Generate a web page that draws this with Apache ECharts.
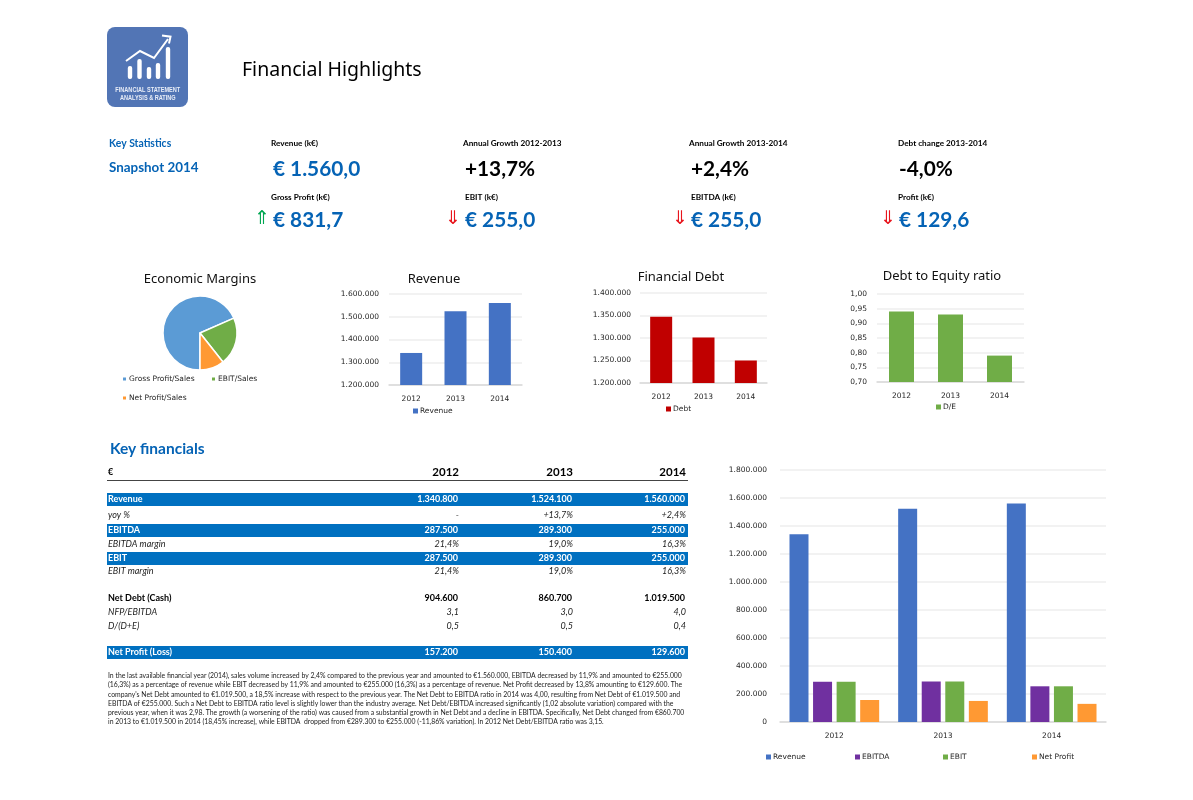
<!DOCTYPE html>
<html>
<head>
<meta charset="utf-8">
<title>Financial Highlights</title>
<style>html,body{margin:0;padding:0;background:#fff}#main{width:1193px;height:800px}</style>
<script src="https://cdn.jsdelivr.net/npm/echarts@6/dist/echarts.min.js"></script>
</head>
<body>
<div id="main"></div>
<script>
// Reporting years and headline series
const years = ['2012', '2013', '2014'];
const revenue = [1340800, 1524100, 1560000];
const ebitda = [287500, 289300, 255000];
const ebit = [287500, 289300, 255000];
const netProfit = [157200, 150400, 129600];
const debt = [1347000, 1301000, 1250000];
const debtToEquity = [0.94, 0.93, 0.79];
const marginNames = ['Gross Profit/Sales', 'EBIT/Sales', 'Net Profit/Sales'];
const marginValues = [53.3, 16.3, 8.3];

// Table rows: label, three cells, style
const tableRows = [
  ['Revenue', '1.340.800', '1.524.100', '1.560.000', 'band', 499.5],
  ['yoy %', '-', '+13,7%', '+2,4%', 'italic', 515],
  ['EBITDA', '287.500', '289.300', '255.000', 'band', 530.5],
  ['EBITDA margin', '21,4%', '19,0%', '16,3%', 'italic', 544.5],
  ['EBIT', '287.500', '289.300', '255.000', 'band', 558],
  ['EBIT margin', '21,4%', '19,0%', '16,3%', 'italic', 571.5],
  ['Net Debt (Cash)', '904.600', '860.700', '1.019.500', 'bold', 598],
  ['NFP/EBITDA', '3,1', '3,0', '4,0', 'italic', 612],
  ['D/(D+E)', '0,5', '0,5', '0,4', 'italic', 626],
  ['Net Profit (Loss)', '157.200', '150.400', '129.600', 'band', 652.5]
];

// Snapshot tiles: caption, figure, caption x, figure x
const statsTop = [
  ['Revenue (k€)', '€ 1.560,0', 271, 273, '#0563b5'],
  ['Annual Growth 2012-2013', '+13,7%', 463, 465, '#000'],
  ['Annual Growth 2013-2014', '+2,4%', 689, 691, '#000'],
  ['Debt change 2013-2014', '-4,0%', 898, 899, '#000']
];
const statsBottom = [
  ['Gross Profit (k€)', '€ 831,7', 271, 273, '⇑', '#00a651', 262],
  ['EBIT (k€)', '€ 255,0', 465, 465, '⇓', '#e8141c', 453],
  ['EBITDA (k€)', '€ 255,0', 691, 691, '⇓', '#e8141c', 680],
  ['Profit (k€)', '€ 129,6', 898, 899, '⇓', '#e8141c', 888]
];

const commentary = [
  'In the last available financial year (2014), sales volume increased by 2,4% compared to the previous year and amounted to €1.560.000, EBITDA decreased by 11,9% and amounted to €255.000',
  '(16,3%) as a percentage of revenue while EBIT decreased by 11,9% and amounted to €255.000 (16,3%) as a percentage of revenue. Net Profit decreased by 13,8% amounting to €129.600. The',
  "company's Net Debt amounted to €1.019.500, a 18,5% increase with respect to the previous year. The Net Debt to EBITDA ratio in 2014 was 4,00, resulting from Net Debt of €1.019.500 and",
  'EBITDA of €255.000. Such a Net Debt to EBITDA ratio level is slightly lower than the industry average. Net Debt/EBITDA increased significantly (1,02 absolute variation) compared with the',
  'previous year, when it was 2,98. The growth (a worsening of the ratio) was caused from a substantial growth in Net Debt and a decline in EBITDA. Specifically, Net Debt changed from €860.700',
  'in 2013 to €1.019.500 in 2014 (18,45% increase), while EBITDA  dropped from €289.300 to €255.000 (-11,86% variation). In 2012 Net Debt/EBITDA ratio was 3,15.'
];

const BLUE = '#4472c4', PURPLE = '#7030a0', GREEN = '#70ad47', ORANGE = '#ff9933', RED = '#c00000';
const TICK = { fontFamily: 'DejaVu Sans', fontSize: 7.5, color: '#262626' };
const grouped = v => String(v).replace(/\B(?=(\d{3})+(?!\d))/g, '.');

function text(str, x, y, font, fill, align) {
  return { type: 'text', silent: true, style: { text: str, x, y, font, fill: fill || '#000', align: align || 'left', verticalAlign: 'middle' } };
}
function box(x, y, w, h, fill, r) {
  return { type: 'rect', silent: true, shape: { x, y, width: w, height: h, r: r || 0 }, style: { fill } };
}

// Page furniture: logo, snapshot tiles, table and commentary
const CAL = 'Lato, "Open Sans", sans-serif';
const gfx = [];

gfx.push(box(107, 27, 81, 80, '#5275b5', 8));
[[130, 66], [139.5, 59], [149, 67], [158, 63], [168, 47]].forEach(([cx, top]) => {
  gfx.push(box(cx - 2.2, top, 4.4, 79 - top, '#fff', 2));
});
gfx.push({ type: 'polyline', silent: true, shape: { points: [[126, 61], [140, 51], [154, 58], [168, 39]] }, style: { stroke: '#fff', lineWidth: 2, fill: null } });
gfx.push({ type: 'polyline', silent: true, shape: { points: [[162, 35.5], [170.5, 36.7], [169, 43.5]] }, style: { stroke: '#fff', lineWidth: 2, fill: null } });
['FINANCIAL STATEMENT', 'ANALYSIS & RATING'].forEach((line, i) => {
  gfx.push({
    type: 'text', silent: true, x: 147.8, y: 90 + i * 8, scaleX: 0.93, scaleY: 1.3,
    style: { text: line, x: 0, y: 0, font: 'bold 6px "Liberation Sans", sans-serif', fill: '#e8edf7', align: 'center', verticalAlign: 'middle' }
  });
});

gfx.push(text('Financial Highlights', 242, 70, '19.5px "Noto Sans", sans-serif', '#000'));
gfx.push(text('Key Statistics', 109, 144, 'bold 10.4px ' + CAL, '#0563b5'));
gfx.push(text('Snapshot 2014', 109, 167.5, 'bold 13.4px ' + CAL, '#0563b5'));

statsTop.forEach(s => {
  gfx.push(text(s[0], s[2], 143, 'bold 8.2px ' + CAL));
  gfx.push(text(s[1], s[3], 169, 'bold 20.8px ' + CAL, s[4]));
});
statsBottom.forEach(s => {
  gfx.push(text(s[0], s[2], 197, 'bold 8.2px ' + CAL));
  gfx.push(text(s[1], s[3], 220, 'bold 20.8px ' + CAL, '#0563b5'));
  gfx.push(text(s[4], s[6], 219, '19px "DejaVu Sans"', s[5], 'center'));
});

gfx.push(text('Key financials', 110, 449, 'bold 15.5px ' + CAL, '#0563b5'));
gfx.push(text('€', 108, 472, 'bold 9px ' + CAL));
const columnRight = [459, 573, 686];
years.forEach((y, i) => gfx.push(text(y, columnRight[i], 472, 'bold 11.5px ' + CAL, '#000', 'right')));
gfx.push(box(107, 480, 581, 1, '#444'));

tableRows.forEach(r => {
  const kind = r[4], cy = r[5];
  if (kind === 'band') gfx.push(box(107, Math.floor(cy) - 6, 581, 13, '#0070c0'));
  const fill = kind === 'band' ? '#fff' : '#000';
  const font = (kind === 'italic' ? 'italic ' : 'bold ') + '9px ' + CAL;
  gfx.push(text(r[0], 108, cy, font, kind === 'italic' ? '#222' : fill));
  [1, 2, 3].forEach(c => gfx.push(text(r[c], columnRight[c - 1] - (kind === 'italic' ? 0 : 1), cy, font, kind === 'italic' ? '#222' : fill, 'right')));
});

commentary.forEach((line, i) => gfx.push(text(line, 108, 676 + i * 9.2, '6.85px ' + CAL, '#222')));

// Small bar panel: axis, grid and series share one layout helper
const panels = [];
function panel(g, min, max, interval, fmt, name, values, color, barW, labelMargin) {
  const idx = panels.length;
  panels.push({
    grid: { left: g[0], top: g[1], width: g[2], height: g[3] },
    xAxis: {
      type: 'category', gridIndex: idx, data: years,
      axisTick: { show: false }, axisLine: { lineStyle: { color: '#d9d9d9', width: 1.5 } },
      axisLabel: Object.assign({ margin: 10 }, TICK)
    },
    yAxis: {
      type: 'value', gridIndex: idx, min, max, interval,
      axisLine: { show: false }, axisTick: { show: false },
      splitLine: { lineStyle: { color: '#eeeeee', width: 1.5 } },
      axisLabel: Object.assign({ formatter: fmt, margin: labelMargin }, TICK)
    },
    series: []
  });
  (Array.isArray(name) ? name : [name]).forEach((n, k) => {
    panels[idx].series.push({
      type: 'bar', name: n, xAxisIndex: idx, yAxisIndex: idx,
      data: Array.isArray(name) ? values[k] : values,
      barWidth: barW, barGap: '24%',
      itemStyle: { color: Array.isArray(color) ? color[k] : color }
    });
  });
}
panel([389, 294, 133, 91], 1200000, 1600000, 100000, grouped, 'Revenue', revenue, BLUE, 22, 10);
panel([640, 293, 127, 90], 1200000, 1400000, 50000, grouped, 'Debt', debt, RED, 22, 9);
panel([877, 294, 147, 88], 0.7, 1, 0.05, v => v.toFixed(2).replace('.', ','), 'D/E', debtToEquity, GREEN, 25, 10);
panel([780, 470, 326, 252], 0, 1800000, 200000, grouped,
  ['Revenue', 'EBITDA', 'EBIT', 'Net Profit'], [revenue, ebitda, ebit, netProfit],
  [BLUE, PURPLE, GREEN, ORANGE], 19, 13);

function legendAt(name, left, top) {
  return {
    data: [name], left, top, selectedMode: false, icon: 'rect', itemWidth: 5, itemHeight: 5, itemGap: 3,
    textStyle: { fontFamily: 'DejaVu Sans', fontSize: 7.5, color: '#262626', padding: [0, 0, 0, -3] }, padding: 0
  };
}
function heading(str, x, y) {
  return { text: str, left: x, top: y, textAlign: 'center', padding: 0, textStyle: { fontFamily: '"Noto Sans", sans-serif', fontSize: 13, fontWeight: 'normal', color: '#111' } };
}

const chart = echarts.init(document.getElementById('main'), null, { renderer: 'canvas', width: 1193, height: 800 });
chart.setOption({
  animation: false,
  backgroundColor: '#fff',
  title: [
    heading('Economic Margins', 200, 272.5),
    heading('Revenue', 434, 272.5),
    heading('Financial Debt', 681, 270.5),
    heading('Debt to Equity ratio', 942, 269.5)
  ],
  legend: [
    legendAt('Gross Profit/Sales', 121, 375),
    legendAt('EBIT/Sales', 210, 375),
    legendAt('Net Profit/Sales', 121, 394),
    legendAt('Revenue', 413, 407),
    legendAt('Debt', 666, 405),
    legendAt('D/E', 936, 403),
    legendAt('Revenue', 766, 753),
    legendAt('EBITDA', 855, 753),
    legendAt('EBIT', 943, 753),
    legendAt('Net Profit', 1032, 753)
  ],
  grid: panels.map(p => p.grid),
  xAxis: panels.map(p => p.xAxis),
  yAxis: panels.map(p => p.yAxis),
  series: panels.flatMap(p => p.series).concat([{
    type: 'pie', center: [200, 333], radius: [0, 37], startAngle: -90, clockwise: true,
    silent: true, label: { show: false }, labelLine: { show: false },
    itemStyle: { borderColor: '#fff', borderWidth: 1.5 },
    color: ['#5b9bd5', GREEN, ORANGE],
    data: marginNames.map((n, i) => ({ name: n, value: marginValues[i] }))
  }]),
  graphic: { elements: gfx }
});
</script>
</body>
</html>
